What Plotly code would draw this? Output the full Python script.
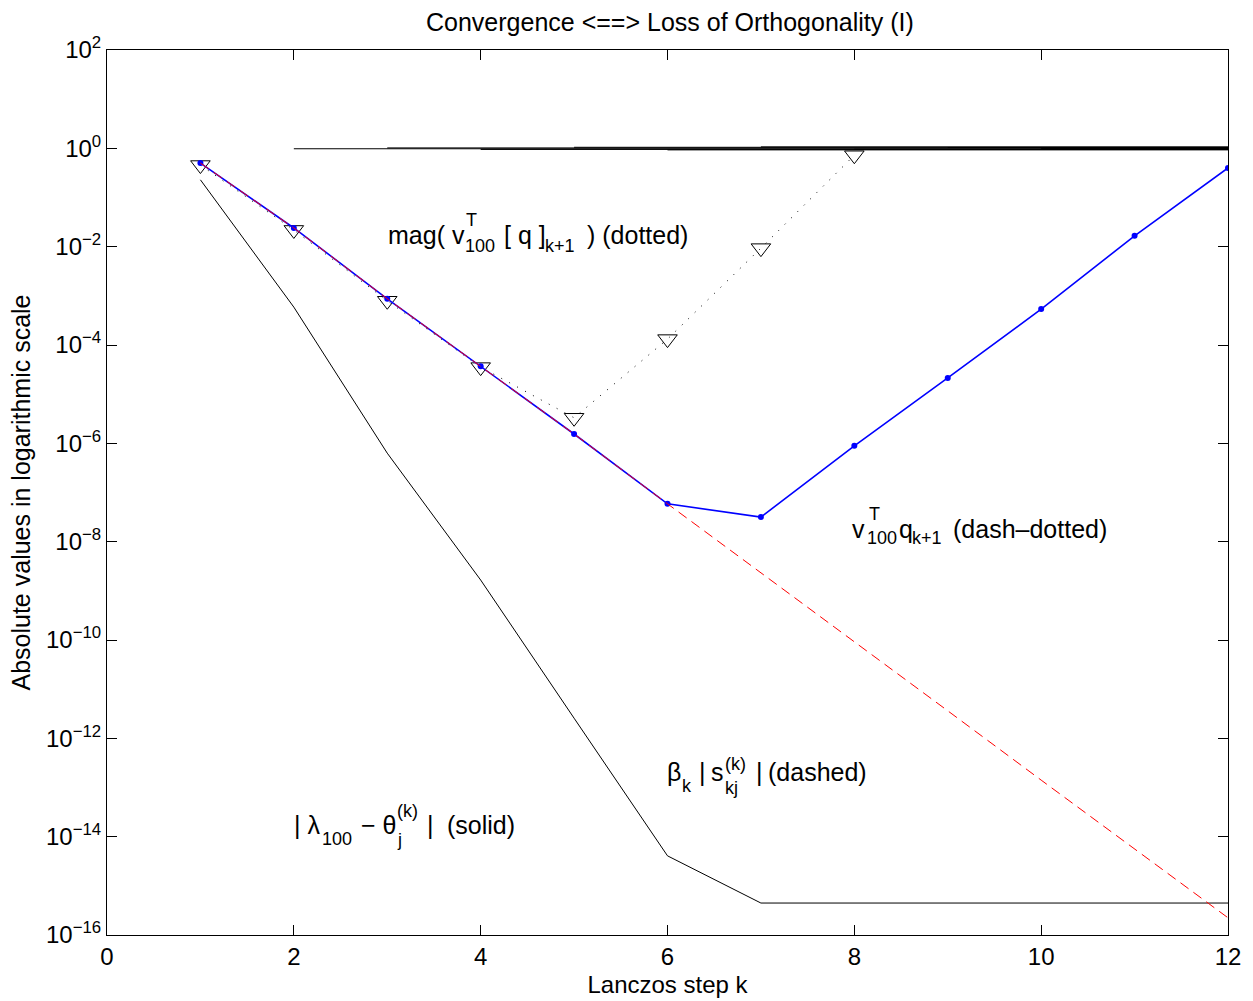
import plotly.graph_objects as go

# ---------------- data ----------------
k = [1, 2, 3, 4, 5, 6, 7, 8, 9, 10, 11, 12]

# v_100^T q_{k+1} (blue)
v_q_exp = [-0.30, -1.62, -3.06, -4.43, -5.81, -7.23, -7.50, -6.05, -4.67, -3.27, -1.78, -0.40]
# beta_k |s_kj^(k)| (red dashed)
beta_s_exp = [-0.30, -1.62, -3.06, -4.43, -5.81, -7.23, -8.63, -10.04, -11.44, -12.85, -14.25, -15.65]
# |lambda_100 - theta_j^(k)| (black solid)
lam_theta_exp = [-0.64, -3.23, -6.20, -8.78, -11.59, -14.39, -15.35, -15.35, -15.35, -15.35, -15.35, -15.35]
# mag(v_100^T [q]_{k+1}) (dotted, triangles)
k_mag = [1, 2, 3, 4, 5, 6, 7, 8]
mag_exp = [-0.34, -1.66, -3.10, -4.45, -5.48, -3.88, -2.03, -0.14]

# nearly-unit curves at the top (start step, level)
top_start = [2, 3, 4, 5, 6, 7, 8, 9, 10, 11]
top_level = [0.98, 1.02, 0.95, 1.05, 0.93, 1.07, 0.96, 1.04, 0.99, 1.01]

x_ticks = [0, 2, 4, 6, 8, 10, 12]
y_tick_exp = [-16, -14, -12, -10, -8, -6, -4, -2, 0, 2]
y_tick_text = ["10<sup>%s</sup>" % (str(e).replace("-", "\u2212")) for e in y_tick_exp]

pw = lambda e: [10 ** v for v in e]

FONT = "Liberation Sans, Arial, Helvetica, sans-serif"

fig = go.Figure()

for s, lv in zip(top_start, top_level):
    fig.add_trace(go.Scatter(x=[s, 12], y=[lv, lv], mode="lines",
                             line=dict(color="black", width=1), showlegend=False,
                             hoverinfo="skip"))

fig.add_trace(go.Scatter(x=k, y=pw(lam_theta_exp), mode="lines",
                         line=dict(color="black", width=1), showlegend=False))

fig.add_trace(go.Scatter(x=k_mag, y=pw(mag_exp), mode="lines+markers",
                         line=dict(color="black", width=1, dash="1px,8px"),
                         marker=dict(symbol="triangle-down-open", size=17,
                                     color="black", line=dict(width=1, color="black")),
                         showlegend=False))

fig.add_trace(go.Scatter(x=k, y=pw(v_q_exp), mode="lines+markers",
                         line=dict(color="#0000ff", width=1.6),
                         marker=dict(symbol="circle", size=6, color="#0000ff"),
                         showlegend=False))

fig.add_trace(go.Scatter(x=k, y=pw(beta_s_exp), mode="lines",
                         line=dict(color="#ff0000", width=1, dash="10px,6px"),
                         showlegend=False))

# ---------------- annotations ----------------
L, R, T, B = 107, 1228, 50, 935
MAIN, SMALL = 25, 18


def P(px, py):
    return (px - L) / (R - L), (B - py) / (B - T)


def note(text, px, py, size=MAIN, anchor="left"):
    x, y = P(px - (2 if anchor == "left" else 0), py)
    fig.add_annotation(x=x, y=y, xref="paper", yref="paper", text=text,
                       showarrow=False, xanchor=anchor, yanchor="middle",
                       font=dict(family=FONT, size=size, color="black"))


note("Convergence &lt;==&gt; Loss of Orthogonality (I)", 670, 22, 25, "center")

# mag( v^T_100 [ q ]_{k+1} ) (dotted)
note("mag( v", 388, 235)
note("T", 466, 220, SMALL)
note("100", 465, 246, SMALL)
note("[ q ]", 504, 235)
note("k+1", 545, 246, SMALL)
note(") (dotted)", 587, 235)

# v^T_100 q_{k+1} (dash-dotted)
note("v", 852, 529)
note("T", 869, 514, SMALL)
note("100", 867, 538, SMALL)
note("q", 899, 529)
note("k+1", 912, 538, SMALL)
note("(dash\u2013dotted)", 953, 529)

# | lambda_100 - theta_j^(k) |  (solid)
note("| \u03bb", 294, 825)
note("100", 322, 839, SMALL)
note("\u2212 \u03b8", 361, 825)
note("(k)", 397, 811, SMALL)
note("j", 397, 840, SMALL)
note("|", 427, 825)
note("(solid)", 447, 825)

# beta_k | s_kj^(k) | (dashed)
note("\u03b2", 667, 772)
note("k", 682, 786, SMALL)
note("|", 699, 772)
note("s", 711, 772)
note("(k)", 725, 764, SMALL)
note("kj", 725, 788, SMALL)
note("|", 756, 772)
note("(dashed)", 768, 772)

fig.update_layout(
    width=1253, height=1001,
    margin=dict(l=L, r=1253 - R, t=T, b=1001 - B, autoexpand=False),
    paper_bgcolor="white", plot_bgcolor="white",
    font=dict(family=FONT, size=24, color="black"),
)

fig.update_xaxes(range=[0, 12], tickvals=x_ticks, ticktext=[str(t) for t in x_ticks],
                 showgrid=False, zeroline=False, showline=True, linecolor="black",
                 linewidth=1, mirror="ticks", ticks="inside", ticklen=10,
                 tickcolor="black", tickfont=dict(size=24), automargin=False,
                 title=dict(text="Lanczos step k", font=dict(size=24), standoff=7))

fig.update_yaxes(type="log", range=[-16, 2], tickvals=pw(y_tick_exp), ticktext=y_tick_text,
                 showgrid=False, zeroline=False, showline=True, linecolor="black",
                 linewidth=1, mirror="ticks", ticks="inside", ticklen=10,
                 tickcolor="black", tickfont=dict(size=24), automargin=False,
                 title=dict(text="Absolute values in logarithmic scale",
                            font=dict(size=25), standoff=8))

fig.write_html("out.html", config={"displayModeBar": False},
               post_script="document.body.style.margin='0px';"
                           "document.body.style.overflow='hidden';")
